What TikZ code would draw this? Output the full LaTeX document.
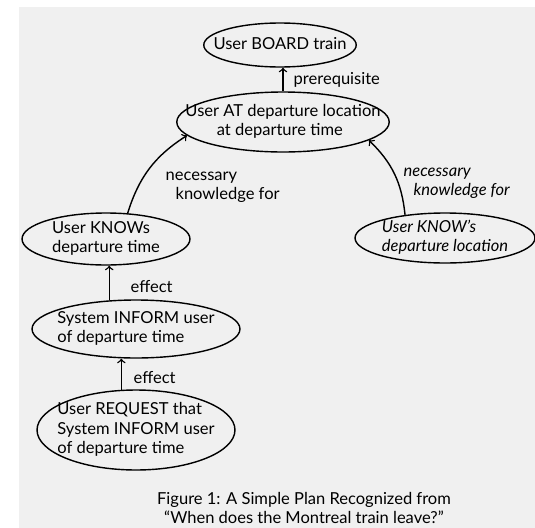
\documentclass[tikz,border=0pt]{standalone}
\usepackage{fontspec}
\setmainfont{Lato}
\usetikzlibrary{shapes.geometric}

\newcommand{\ovaltext}[1]{\makebox[0pt]{\smash{\raisebox{-0.25em}{\begin{tabular}[c]{@{}l@{}}#1\end{tabular}}}}}

\begin{document}
\begin{tikzpicture}[x=0.02cm, y=-0.02cm, >=to,
		every node/.style={ellipse, draw=black, thick, inner sep=0pt, font=\fontsize{9.4}{11}\selectfont},
		every edge/.style={draw=black, thick, ->}]
			\useasboundingbox (0,0) rectangle (535,528);
			\fill[black!6] (19,7) rectangle (535,528);
			
			\node[minimum width=3.05cm, minimum height=0.88cm] (board) at (280,45){\ovaltext{User BOARD train}};
			\node[minimum width=4.25cm, minimum height=1.2cm] (at) at (283,122){\ovaltext{User AT departure location\\\hspace*{1.9em}at departure time}};
			\node[minimum width=3.36cm, minimum height=1.04cm] (knowt) at (106,239){\ovaltext{User KNOWs\\departure time}};
			\node[minimum width=3.6cm, minimum height=1cm, font=\fontsize{9.4}{11}\selectfont\itshape] (knowl) at (445,238){\ovaltext{User KNOW's\\departure location}};
			\node[minimum width=4.16cm, minimum height=1.16cm] (inform) at (136,329){\ovaltext{System INFORM user\\of departure time}};
			\node[minimum width=3.96cm, minimum height=1.6cm] (request) at (136,430){\ovaltext{User REQUEST that\\System INFORM user\\of departure time}};
			
			\node[rectangle, draw=none, anchor=west] (lprereq) at (293,80){prerequisite};
			\node[rectangle, draw=none, anchor=west, align=left] (lneedt) at (165,187){necessary\\\hspace*{0.6em}knowledge for};
			\node[rectangle, draw=none, anchor=west, align=left, font=\fontsize{9.4}{11}\selectfont\itshape] (lneedl) at (403,183){necessary\\\hspace*{0.6em}knowledge for};
			\node[rectangle, draw=none, anchor=west] (leffect1) at (130,287){effect};
			\node[rectangle, draw=none, anchor=west] (leffect2) at (133,378){effect};
			\node[rectangle, draw=none, align=center] (caption) at (304,508){Figure 1: A Simple Plan Recognized from\\``When does the Montreal train leave?''};
			
			\path (at.north) edge (at.north |- board.south);
			\path (knowt.50) edge[bend left=20] (at.188);
			\path (knowl.150) edge[bend right=20] (at.348);
			\path (inform.133) edge (inform.133 |- knowt.south);
			\path (request.110) edge (request.110 |- inform.south);
			\end{tikzpicture}
\end{document}
